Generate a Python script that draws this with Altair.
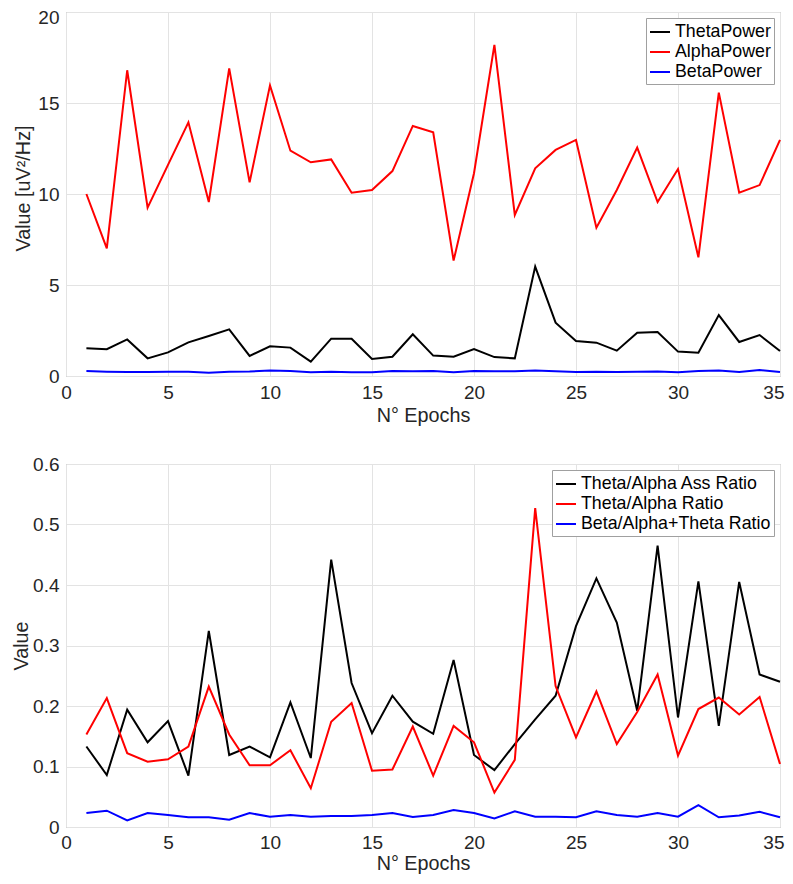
import altair as alt
import pandas as pd

epochs = list(range(1, 36))

theta_power = [1.52, 1.47, 2.01, 0.97, 1.30, 1.85, 2.20, 2.56, 1.10, 1.63,
               1.56, 0.79, 2.05, 2.05, 0.93, 1.06, 2.29, 1.12, 1.06, 1.48,
               1.04, 0.97, 6.01, 2.93, 1.92, 1.83, 1.39, 2.38, 2.42, 1.34,
               1.28, 3.35, 1.87, 2.25, 1.37]
alpha_power = [10.0, 7.01, 16.8, 9.25, 11.6, 13.94, 9.56, 16.9, 10.64, 15.97,
               12.38, 11.74, 11.9, 10.07, 10.22, 11.26, 13.74, 13.39, 6.34, 11.14,
               18.19, 8.85, 11.41, 12.42, 12.97, 8.15, 10.22, 12.55, 9.56, 11.37,
               6.52, 15.57, 10.07, 10.49, 12.97]
beta_power = [0.28, 0.24, 0.22, 0.22, 0.24, 0.24, 0.18, 0.24, 0.25, 0.30,
              0.28, 0.20, 0.24, 0.20, 0.20, 0.28, 0.26, 0.28, 0.20, 0.28,
              0.26, 0.26, 0.30, 0.26, 0.22, 0.24, 0.22, 0.24, 0.25, 0.20,
              0.28, 0.30, 0.22, 0.33, 0.22]

ass_ratio = [0.133, 0.086, 0.194, 0.140, 0.175, 0.085, 0.324, 0.119, 0.133, 0.115,
             0.206, 0.114, 0.442, 0.238, 0.155, 0.217, 0.174, 0.154, 0.276, 0.119,
             0.094, 0.137, 0.178, 0.217, 0.332, 0.411, 0.338, 0.192, 0.465, 0.181,
             0.406, 0.167, 0.405, 0.252, 0.240]
ta_ratio = [0.153, 0.213, 0.122, 0.108, 0.112, 0.133, 0.232, 0.153, 0.102, 0.102,
            0.127, 0.064, 0.174, 0.205, 0.093, 0.095, 0.166, 0.085, 0.167, 0.140,
            0.057, 0.111, 0.527, 0.233, 0.148, 0.224, 0.137, 0.190, 0.252, 0.118,
            0.195, 0.214, 0.186, 0.215, 0.104]
bat_ratio = [0.023, 0.027, 0.011, 0.023, 0.020, 0.016, 0.016, 0.012, 0.023, 0.017,
             0.020, 0.017, 0.018, 0.018, 0.020, 0.023, 0.0165, 0.020, 0.028, 0.023,
             0.014, 0.026, 0.017, 0.017, 0.016, 0.026, 0.020, 0.017, 0.023, 0.017,
             0.036, 0.016, 0.019, 0.025, 0.016]

top_series = ["ThetaPower", "AlphaPower", "BetaPower"]
bottom_series = ["Theta/Alpha Ass Ratio", "Theta/Alpha Ratio", "Beta/Alpha+Theta Ratio"]
line_colors = ["#000000", "#ff0000", "#0000ff"]

x_ticks = [0, 5, 10, 15, 20, 25, 30, 35]
top_y_ticks = [0, 5, 10, 15, 20]
bottom_y_ticks = [0, 0.1, 0.2, 0.3, 0.4, 0.5, 0.6]

x_title = "N° Epochs"
top_y_title = "Value [uV²/Hz]"
bottom_y_title = "Value"


def to_long(names, arrays):
    rows = []
    for order, (name, arr) in enumerate(zip(names, arrays)):
        for e, v in zip(epochs, arr):
            rows.append({"epoch": e, "value": v, "series": name, "order": order})
    return pd.DataFrame(rows)


top_df = to_long(top_series, [theta_power, alpha_power, beta_power])
bottom_df = to_long(bottom_series, [ass_ratio, ta_ratio, bat_ratio])


def legend():
    return alt.Legend(
        orient="top-right", offset=6, strokeColor="#a0a0a0", fillColor="white",
        padding=3, symbolType="stroke", symbolStrokeWidth=2, symbolSize=400,
        labelFontSize=17.8, labelColor="black", labelOffset=4, rowPadding=0,
        labelLimit=400, title=None,
    )


last_x_align = {"condition": {"test": "datum.value == 35", "value": "right"}, "value": "center"}
last_x_offset = {"condition": {"test": "datum.value == 35", "value": 4}, "value": 0}


def panel(df, names, y_ticks, y_max, y_title, h, y_axis_extra, x_axis_extra):
    return alt.Chart(df).mark_line(strokeWidth=2).encode(
        x=alt.X("epoch:Q", scale=alt.Scale(domain=[0, 35], nice=False),
                axis=alt.Axis(values=x_ticks, title=x_title, labelFlush=False,
                              labelAlign=last_x_align, labelOffset=last_x_offset,
                              **x_axis_extra)),
        y=alt.Y("value:Q", scale=alt.Scale(domain=[0, y_max], nice=False),
                axis=alt.Axis(values=y_ticks, title=y_title, format="~g", **y_axis_extra)),
        color=alt.Color("series:N", scale=alt.Scale(domain=names, range=line_colors),
                        legend=legend()),
        order=alt.Order("order:Q"),
        detail="series:N",
    ).properties(width=714, height=h)


top = panel(
    top_df, top_series, top_y_ticks, 20, top_y_title, 364,
    {"titleY": 176, "titlePadding": 4,
     "labelOffset": {"condition": {"test": "datum.value == 20", "value": 5.5}, "value": 0}},
    {"labelPadding": 7, "titlePadding": 3.5},
)
bottom = panel(
    bottom_df, bottom_series, bottom_y_ticks, 0.6, bottom_y_title, 363,
    {"titlePadding": 1.5},
    {"labelPadding": 6.5, "titlePadding": 1},
)

chart = alt.vconcat(top, bottom, spacing=28).resolve_scale(
    color="independent"
).resolve_legend(
    color="independent"
).properties(
    padding={"left": 2, "top": 0, "right": 0, "bottom": 0}
).configure(
    font="Liberation Sans"
).configure_view(
    stroke="#9a9a9a", strokeWidth=1
).configure_axis(
    labelFont="Liberation Sans", labelFontSize=19, labelColor="#262626",
    titleFont="Liberation Sans", titleFontSize=19.8, titleFontWeight="normal",
    titleColor="#262626", gridColor="#e3e3e3", gridWidth=1, domain=False,
    ticks=False, labelPadding=7, titlePadding=4,
).configure_legend(
    labelFont="Liberation Sans"
)

chart.save("out.html", embed_options={"renderer": "svg", "actions": False})
